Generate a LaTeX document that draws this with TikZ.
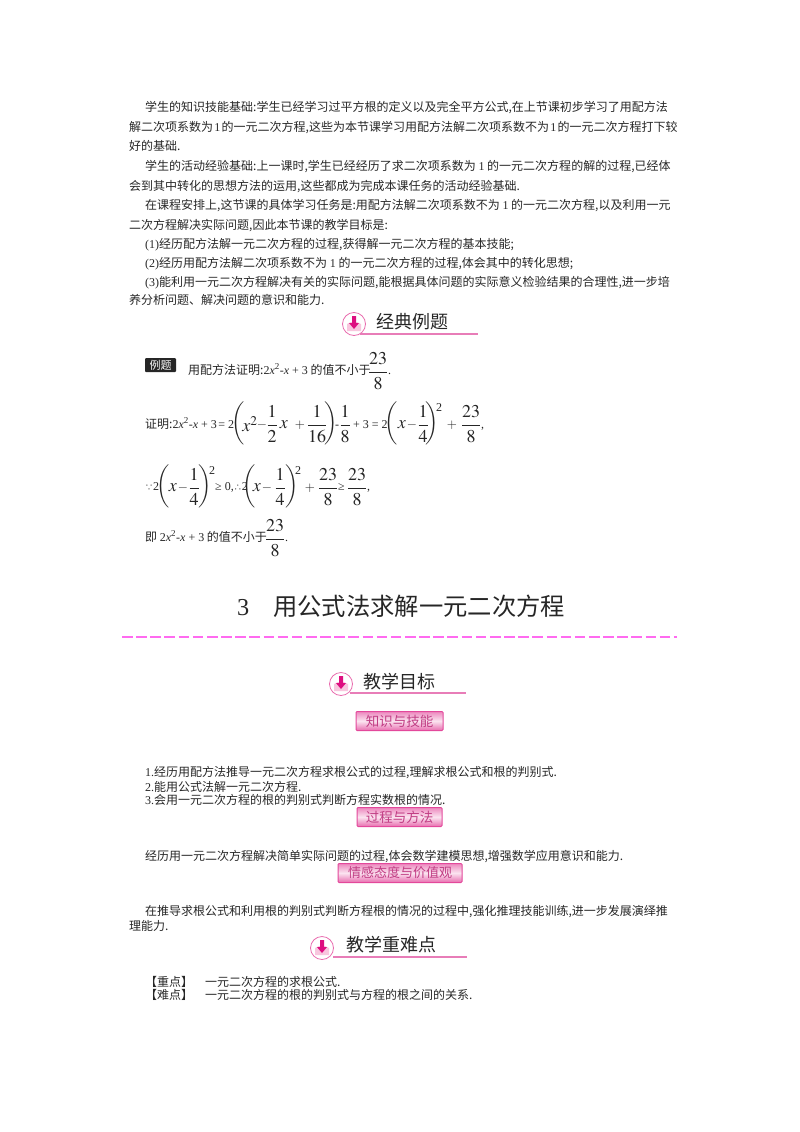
\documentclass[tikz,border=0pt]{standalone}
\usepackage{mathptmx}
\usepackage{fontspec}
\setmainfont{Noto Sans CJK SC}
\newfontfamily\latfont{Liberation Serif}
\newcommand{\rmtxt}[1]{{\latfont #1}}
\newcommand{\polyx}{{\latfont 2\textit{x}\textsuperscript{2}-\textit{x} + 3}}
\newcommand{\tallL}{\left(\rule[-18pt]{0pt}{38pt}\right.}
\newcommand{\tallR}{\left.\rule[-18pt]{0pt}{38pt}\right)}
\newcommand{\bigfrac}[2]{$\displaystyle\frac{#1}{#2}$}
\newcommand{\tinydots}[1]{{\fontsize{8}{9}\selectfont #1}}
\definecolor{rosa}{HTML}{E3489B}
\definecolor{rosaclaro}{HTML}{F8C6DE}
\definecolor{rosafuerte}{HTML}{DD0F80}
\definecolor{rosaline}{HTML}{E87DB8}
\definecolor{rosadash}{HTML}{FF6BF0}
\tikzset{
  txtline/.style={anchor=base west,inner sep=0pt,yshift=-1pt,text=black!85,font=\fontsize{12}{14}\selectfont},
  bigmath/.style={inner sep=0pt,text=black!85,font=\fontsize{18}{20}\selectfont},
  opmath/.style={inner sep=0pt,text=black!85,font=\fontsize{13}{15}\selectfont},
  headtxt/.style={anchor=west,inner sep=0pt,text=black!85,font=\fontsize{18}{20}\selectfont},
  headrule/.style={draw=rosaline,line width=1.3pt},
  labelbox/.style={draw=rosa,line width=1pt,rounded corners=1pt,inner sep=0pt,minimum height=19pt,
    top color=rosa!65,bottom color=rosa!80,middle color=white!85!rosa,
    text=rosa!85!black,font=\fontsize{13.5}{15}\selectfont},
  headicon/.pic={
    \draw[draw=rosa!80,fill=white,line width=0.8pt] (0,0) circle (11.5);
    \fill[rosaclaro] (-7,0) -- (-3,-2) -- (3,-2) -- (7,0) -- (7,7) -- (-7,7) -- cycle;
    \fill[rosafuerte] (-2,-8) -- (2,-8) -- (2,-1) -- (5,-1) -- (0,5) -- (-5,-1) -- (-2,-1) -- cycle;
  }
}

\begin{document}
\begin{tikzpicture}[x=1pt,y=-1pt]
\useasboundingbox (0,0) rectangle (800,1132);

% Top paragraphs
\node[txtline] (para1a) at (145,110) {学生的知识技能基础:学生已经学习过平方根的定义以及完全平方公式,在上节课初步学习了用配方法};
\node[txtline] (para1b) at (129,130) {解二次项系数为\hspace{1.25pt}\rmtxt{1}\hspace{1.25pt}的一元二次方程,这些为本节课学习用配方法解二次项系数不为\hspace{1.25pt}\rmtxt{1}\hspace{1.25pt}的一元二次方程打下较};
\node[txtline] (para1c) at (129,149) {好的基础.};
\node[txtline] (para2a) at (145,169) {学生的活动经验基础:上一课时,学生已经经历了求二次项系数为 \rmtxt{1} 的一元二次方程的解的过程,已经体};
\node[txtline] (para2b) at (129,189) {会到其中转化的思想方法的运用,这些都成为完成本课任务的活动经验基础.};
\node[txtline] (para3a) at (145,208) {在课程安排上,这节课的具体学习任务是:用配方法解二次项系数不为 \rmtxt{1} 的一元二次方程,以及利用一元};
\node[txtline] (para3b) at (129,228) {二次方程解决实际问题,因此本节课的教学目标是:};
\node[txtline] (goal1) at (145,247) {\rmtxt{(1)}经历配方法解一元二次方程的过程,获得解一元二次方程的基本技能;};
\node[txtline] (goal2) at (145,266) {\rmtxt{(2)}经历用配方法解二次项系数不为 \rmtxt{1} 的一元二次方程的过程,体会其中的转化思想;};
\node[txtline] (goal3a) at (145,285) {\rmtxt{(3)}能利用一元二次方程解决有关的实际问题,能根据具体问题的实际意义检验结果的合理性,进一步培};
\node[txtline] (goal3b) at (129,303) {养分析问题、解决问题的意识和能力.};

% First heading
\draw[headrule] (360,334) -- (478,334);
\pic at (354,324) {headicon};
\node[headtxt] (headjing) at (376,322) {经典例题};

% Worked example
\node[fill=black!85,text=white,rounded corners=1pt,inner sep=0pt,minimum width=31pt,minimum height=14pt,font=\fontsize{11}{12}\selectfont] (liti) at (160.5,365) {例题};
\node[txtline] (stmt) at (188,373) {用配方法证明:\polyx{} 的值不小于};
\node[bigmath] (stmtfrac) at (378,371) {\bigfrac{23}{8}};
\node[txtline] (stmtdot) at (388,373) {\rmtxt{.}};

% First line of the proof
\node[txtline] (proofa) at (145,427) {证明:\polyx{}\hspace{1.5pt}\rmtxt{= 2}};
\node[bigmath] (pl1) at (238.5,424) {$\tallL$};
\node[bigmath] (xsq) at (250,424) {$x^{2}$};
\node[opmath] (minusa) at (262,425) {$-$};
\node[bigmath] (fa1) at (272,424) {\bigfrac{1}{2}};
\node[bigmath] (xa) at (284,425) {$x$};
\node[opmath] (plusa) at (300,425) {$+$};
\node[bigmath] (fa2) at (317,424) {\bigfrac{1}{16}};
\node[bigmath] (pr1) at (331,424) {$\tallR$};
\node[txtline] (minusb) at (335,427) {\rmtxt{-}};
\node[bigmath] (fa3) at (345,424) {\bigfrac{1}{8}};
\node[txtline] (proofb) at (353,427) {\rmtxt{+ 3 = 2}};
\node[bigmath] (pl2) at (392,424) {$\tallL$};
\node[bigmath] (xb) at (402,425) {$x$};
\node[opmath] (minusc) at (412,425) {$-$};
\node[bigmath] (fa4) at (423,424) {\bigfrac{1}{4}};
\node[bigmath] (pr2) at (432,424) {$\tallR$};
\node[txtline] (sqa) at (436,410) {\rmtxt{2}};
\node[opmath] (plusb) at (452,425) {$+$};
\node[bigmath] (fa5) at (471,424) {\bigfrac{23}{8}};
\node[txtline] (commaa) at (481,427) {\rmtxt{,}};

% Second line of the proof
\node[txtline] (because) at (145,489) {\tinydots{∵}\rmtxt{2}};
\node[bigmath] (pl3) at (164,487) {$\tallL$};
\node[bigmath] (xc) at (173,488) {$x$};
\node[opmath] (minusd) at (183,488) {$-$};
\node[bigmath] (fb1) at (194,487) {\bigfrac{1}{4}};
\node[bigmath] (pr3) at (205,487) {$\tallR$};
\node[txtline] (sqb) at (209,473) {\rmtxt{2}};
\node[txtline] (geq) at (215,489) {\rmtxt{≥ 0,}\tinydots{∴}\rmtxt{2}};
\node[bigmath] (pl4) at (250,487) {$\tallL$};
\node[bigmath] (xd) at (257,488) {$x$};
\node[opmath] (minuse) at (267,488) {$-$};
\node[bigmath] (fb2) at (280,487) {\bigfrac{1}{4}};
\node[bigmath] (pr4) at (292,487) {$\tallR$};
\node[txtline] (sqc) at (295,473) {\rmtxt{2}};
\node[opmath] (plusc) at (310,488) {$+$};
\node[bigmath] (fb3) at (328,487) {\bigfrac{23}{8}};
\node[txtline] (geqb) at (338,489) {\rmtxt{≥}};
\node[bigmath] (fb4) at (357,487) {\bigfrac{23}{8}};
\node[txtline] (commab) at (367,489) {\rmtxt{,}};

% Conclusion
\node[txtline] (concl) at (145,540) {即 \polyx{} 的值不小于};
\node[bigmath] (fc) at (275,538) {\bigfrac{23}{8}};
\node[txtline] (concldot) at (285,540) {\rmtxt{.}};

% Section title
\node[anchor=base west,inner sep=0pt,text=black!85,font=\fontsize{24.3}{28}\selectfont] (title) at (237,615) {\rmtxt{3}\hspace{24pt}用公式法求解一元二次方程};
\draw[draw=rosadash,line width=1.2pt,dash pattern=on 10.6pt off 3.55pt] (122,637) -- (676.5,637);

% Teaching goals
\draw[headrule] (350,693) -- (466,693);
\pic at (341,684) {headicon};
\node[headtxt] (headmubiao) at (363,682) {教学目标};
\node[labelbox,minimum width=87pt] (boxzhishi) at (399.5,721) {知识与技能};

\node[txtline] (item1) at (145,775) {\rmtxt{1.}经历用配方法推导一元二次方程求根公式的过程,理解求根公式和根的判别式.};
\node[txtline] (item2) at (145,790) {\rmtxt{2.}能用公式法解一元二次方程.};
\node[txtline] (item3) at (145,803) {\rmtxt{3.}会用一元二次方程的根的判别式判断方程实数根的情况.};
\node[labelbox,minimum width=85pt] (boxguocheng) at (399.5,817) {过程与方法};

\node[txtline] (proc) at (145,859) {经历用一元二次方程解决简单实际问题的过程,体会数学建模思想,增强数学应用意识和能力.};
\node[labelbox,minimum width=124pt,font=\fontsize{13}{15}\selectfont] (boxqinggan) at (400,873) {情感态度与价值观};

\node[txtline] (attia) at (145,914) {在推导求根公式和利用根的判别式判断方程根的情况的过程中,强化推理技能训练,进一步发展演绎推};
\node[txtline] (attib) at (129,929) {理能力.};

% Key points
\draw[headrule] (333,957) -- (467,957);
\pic at (322,948) {headicon};
\node[headtxt] (headzhong) at (346,945) {教学重难点};
\node[txtline] (keya) at (145,985) {【重点】\hspace{12pt}一元二次方程的求根公式.};
\node[txtline] (keyb) at (145,998) {【难点】\hspace{12pt}一元二次方程的根的判别式与方程的根之间的关系.};

\end{tikzpicture}
\end{document}
